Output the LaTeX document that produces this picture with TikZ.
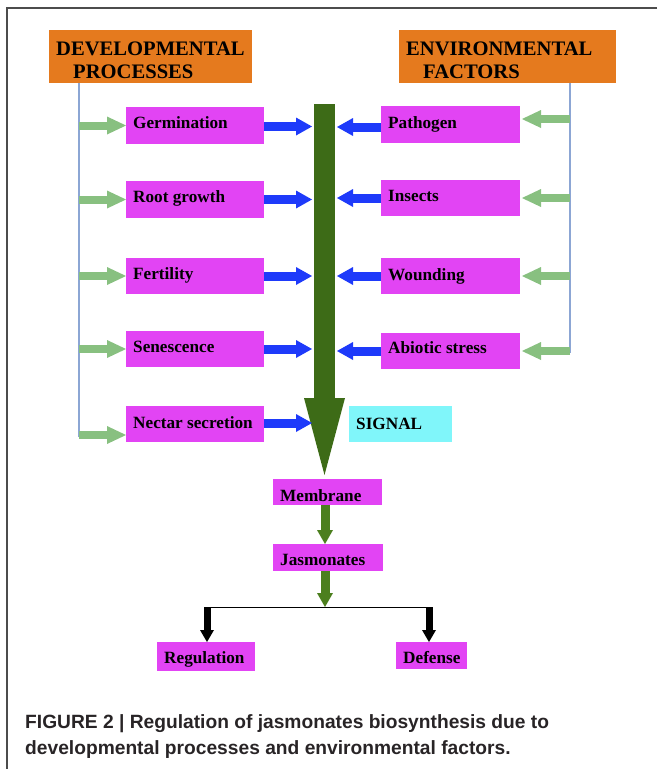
\documentclass[tikz,border=0pt]{standalone}
\usepackage{fontspec}
\setmainfont{Liberation Serif}
\newfontfamily\capfont{Liberation Sans}
\usetikzlibrary{arrows.meta}
\definecolor{mag}{RGB}{226,68,244}
\definecolor{org}{RGB}{229,122,30}
\definecolor{cyn}{RGB}{128,246,250}
\definecolor{blu}{RGB}{30,58,250}
\definecolor{lgr}{RGB}{136,192,128}
\definecolor{dgr}{RGB}{61,107,23}
\definecolor{sgr}{RGB}{76,127,30}
\definecolor{lin}{RGB}{140,166,212}
\definecolor{capc}{RGB}{40,36,38}
\newcommand\tbox[8]{%
  \node[#1,minimum width={(#5-#3)*1pt},minimum height={(#6-#4)*1pt},anchor=north west] (#2) at (#3,#4) {};
  \node[boxtext,anchor=base west] (#2t) at ({#3+7},#7) {#8};}
\tikzset{
  magbox/.style={fill=mag,inner sep=0pt,outer sep=0pt},
  orgbox/.style={fill=org,inner sep=0pt,outer sep=0pt},
  cynbox/.style={fill=cyn,inner sep=0pt,outer sep=0pt},
  boxtext/.style={inner sep=0pt,font=\fontsize{17.2}{20}\selectfont\bfseries},
  hdtext/.style={inner sep=0pt,font=\fontsize{20.6}{24}\selectfont\bfseries},
  captext/.style={inner sep=0pt,text=capc,font=\capfont\fontsize{19.2}{23}\selectfont\bfseries},
  vline/.style={draw=lin,line width=1.6pt},
  lgarrow/.style={draw=lgr,line width=8pt,-{Triangle[width=18pt,length=19pt,line width=0pt]}},
  blarrow/.style={draw=blu,line width=9pt,-{Triangle[width=18pt,length=16pt,line width=0pt]}},
  bararrow/.style={draw=dgr,line width=21pt,-{Triangle[width=41pt,length=77pt,line width=0pt]}},
  sgarrow/.style={draw=sgr,line width=9pt,-{Triangle[width=16pt,length=14pt,line width=0pt]}},
  bkarrow/.style={draw=black,line width=7pt,-{Triangle[width=14pt,length=12pt,line width=0pt]}},
  frame/.style={draw=black!70,line width=1.3pt}
}
\begin{document}
\begin{tikzpicture}[x=1pt,y=-1pt]
\useasboundingbox (0,0) rectangle (657,769);
% frame
\coordinate (ftl) at (7,8);
\coordinate (ftr) at (657,8);
\coordinate (fbl) at (7,769);
\draw[frame] (ftr) -- (ftl) -- (fbl);
% headers
\node[orgbox,minimum width=203pt,minimum height=53pt,anchor=north west] (dev) at (49,30) {};
\node[hdtext,anchor=base west] (devt1) at (56,55) {DEVELOPMENTAL};
\node[hdtext,anchor=base west] (devt2) at (73,78) {PROCESSES};
\node[orgbox,minimum width=217pt,minimum height=53pt,anchor=north west] (env) at (399,30) {};
\node[hdtext,anchor=base west] (envt1) at (406,55) {ENVIRONMENTAL};
\node[hdtext,anchor=base west] (envt2) at (423,78) {FACTORS};
% side lines
\coordinate (devtop) at (79,83);
\coordinate (devbot) at (79,437);
\coordinate (envtop) at (570,83);
\coordinate (envbot) at (570,353);
\draw[vline] (devtop) -- (devbot);
\draw[vline] (envtop) -- (envbot);
% left boxes
\tbox{magbox}{germ}{126}{107}{264}{144}{128}{Germination}
\tbox{magbox}{root}{126}{181}{264}{218}{202}{Root growth}
\tbox{magbox}{fert}{126}{258}{264}{294}{279}{Fertility}
\tbox{magbox}{sen}{126}{331}{264}{367}{352}{Senescence}
\tbox{magbox}{nect}{126}{406}{264}{442}{428}{Nectar secretion}
% right boxes
\tbox{magbox}{path}{381}{106}{520}{143}{128}{Pathogen}
\tbox{magbox}{ins}{381}{180}{520}{216}{201}{Insects}
\tbox{magbox}{wound}{381}{258}{520}{294}{280}{Wounding}
\tbox{magbox}{abio}{381}{333}{520}{369}{353}{Abiotic stress}
\tbox{cynbox}{sig}{349}{406}{452}{442}{429}{SIGNAL}
% lower boxes
\tbox{magbox}{mem}{273}{479}{382}{505}{501}{Membrane}
\tbox{magbox}{jas}{273}{544}{383}{571}{565}{Jasmonates}
\tbox{magbox}{reg}{157}{642}{255}{671}{663}{Regulation}
\tbox{magbox}{def}{396}{642}{467}{669}{663}{Defense}
% central bar
\coordinate (bartop) at (324.5,104);
\coordinate (bartip) at (324.5,475);
\coordinate (barL) at (312,0);
\coordinate (barR) at (337,0);
\draw[bararrow] (bartop) -- (bartip);
% left green arrows
\draw[lgarrow] (devtop |- germ.west) -- (germ.west);
\draw[lgarrow] (devtop |- root.west) -- (root.west);
\draw[lgarrow] (devtop |- fert.west) -- (fert.west);
\draw[lgarrow] (devtop |- sen.west) -- (sen.west);
\draw[lgarrow] (devtop |- 0,435) -- (nect.west |- 0,435);
% right green arrows
\draw[lgarrow] (envtop |- 0,119) -- ([xshift=2pt]path.east |- 0,119);
\draw[lgarrow] (envtop |- ins.east) -- ([xshift=2pt]ins.east);
\draw[lgarrow] (envtop |- wound.east) -- ([xshift=2pt]wound.east);
\draw[lgarrow] (envtop |- abio.east) -- ([xshift=2pt]abio.east);
% blue arrows left
\draw[blarrow] (germ.east |- 0,126.5) -- (barL |- 0,126.5);
\draw[blarrow] (root.east) -- (barL |- root.east);
\draw[blarrow] (fert.east) -- (barL |- fert.east);
\draw[blarrow] (sen.east) -- (barL |- sen.east);
\draw[blarrow] (nect.east |- 0,423) -- (barL |- 0,423);
% blue arrows right
\draw[blarrow] (path.west |- 0,127) -- (barR |- 0,127);
\draw[blarrow] (ins.west) -- (barR |- ins.west);
\draw[blarrow] (wound.west) -- (barR |- wound.west);
\draw[blarrow] (abio.west) -- (barR |- abio.west);
% lower flow
\coordinate (junc) at (325,607);
\coordinate (jl) at (207,607);
\coordinate (jr) at (429,607);
\draw[sgarrow] (mem.south -| junc) -- (jas.north -| junc);
\draw[black,line width=1pt] (jl) -- (jr);
\draw[sgarrow] (jas.south -| junc) -- (junc);
\draw[bkarrow] (jl) -- (reg.north -| jl);
\draw[bkarrow] (jr) -- (def.north -| jr);
% caption
\node[captext,anchor=base west] (cap1) at (25,728) {FIGURE 2 | Regulation of jasmonates biosynthesis due to};
\node[captext,anchor=base west] (cap2) at (25,754) {developmental processes and environmental factors.};
\end{tikzpicture}
\end{document}
